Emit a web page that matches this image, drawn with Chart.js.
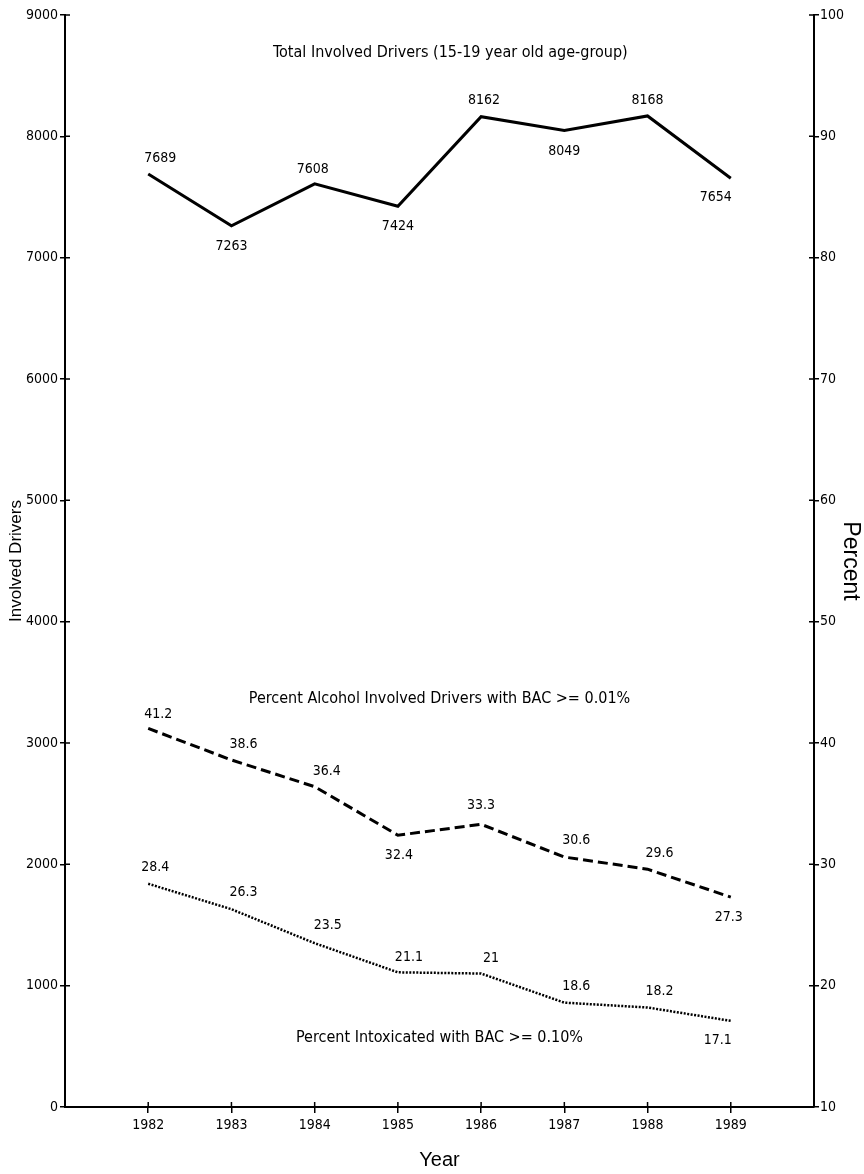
<!DOCTYPE html>
<html>
<head>
<meta charset="utf-8">
<script src="https://cdn.jsdelivr.net/npm/chart.js@4.4.1/dist/chart.umd.min.js"></script>
<style>
  html, body { margin: 0; padding: 0; background: #fff; }
  #wrap { width: 864px; height: 1174px; position: relative; }
</style>
</head>
<body>
<div id="wrap"><canvas id="chart"></canvas></div>
<script>
// values
const years = [1982, 1983, 1984, 1985, 1986, 1987, 1988, 1989];
const totalDrivers = [7689, 7263, 7608, 7424, 8162, 8049, 8168, 7654];
const pctBac001 = [41.2, 38.6, 36.4, 32.4, 33.3, 30.6, 29.6, 27.3];
const pctBac010 = [28.4, 26.3, 23.5, 21.1, 21, 18.6, 18.2, 17.1];
const leftTicks = [0, 1000, 2000, 3000, 4000, 5000, 6000, 7000, 8000, 9000];
const rightTicks = [10, 20, 30, 40, 50, 60, 70, 80, 90, 100];

// label nudges in px (style only)
const totalLabelOffsets = [[12, -16], [0, 21], [-2, -15], [0, 20], [3, -16], [0, 21], [0, -16], [-15, 19]];
const bac001LabelOffsets = [[10, -14], [12, -16], [12, -15], [1, 20], [0, -19], [12, -17], [12, -16], [-2, 20]];
const bac010LabelOffsets = [[7, -16], [12, -17], [13, -18], [11, -15], [10, -15], [12, -16], [12, -16], [-13, 20]];

const notes = [
  { text: 'Total Involved Drivers (15-19 year old age-group)', x: 1985.63, y: 8687, axis: 'y' },
  { text: 'Percent Alcohol Involved Drivers with BAC >= 0.01%', x: 1985.5, y: 43.6, axis: 'y1' },
  { text: 'Percent Intoxicated with BAC >= 0.10%', x: 1985.5, y: 15.7, axis: 'y1' }
];

const narrow = '"DejaVu Sans Condensed", "Liberation Sans Narrow", sans-serif';
const plain = '"Liberation Sans", Arial, sans-serif';

const toPoints = vals => vals.map((v, i) => ({ x: years[i], y: v }));

const pointLabels = {
  id: 'pointLabels',
  afterDatasetsDraw(chart) {
    const ctx = chart.ctx;
    ctx.save();
    ctx.font = '14px ' + narrow;
    ctx.fillStyle = '#000';
    ctx.textAlign = 'center';
    ctx.textBaseline = 'middle';
    chart.data.datasets.forEach((ds, di) => {
      const meta = chart.getDatasetMeta(di);
      meta.data.forEach((pt, i) => {
        const off = ds.labelOffsets[i];
        ctx.fillText(String(ds.data[i].y), pt.x + off[0], pt.y + off[1]);
      });
    });
    ctx.restore();
  }
};

const chartNotes = {
  id: 'chartNotes',
  afterDatasetsDraw(chart) {
    const ctx = chart.ctx;
    ctx.save();
    ctx.font = '16px ' + narrow;
    ctx.fillStyle = '#000';
    ctx.textAlign = 'center';
    ctx.textBaseline = 'middle';
    notes.forEach(n => {
      const px = chart.scales.x.getPixelForValue(n.x);
      const py = chart.scales[n.axis].getPixelForValue(n.y);
      ctx.fillText(n.text, px, py);
    });
    ctx.restore();
  }
};

// ticks in the scan cross the axis, so add the inner half
const innerTicks = {
  id: 'innerTicks',
  afterDraw(chart) {
    const ctx = chart.ctx;
    const { x, y, y1 } = chart.scales;
    ctx.save();
    ctx.strokeStyle = '#000';
    ctx.lineWidth = 1.5;
    ctx.beginPath();
    y.ticks.forEach((t, i) => {
      const py = y.getPixelForTick(i);
      ctx.moveTo(y.right, py); ctx.lineTo(y.right + 5, py);
    });
    y1.ticks.forEach((t, i) => {
      const py = y1.getPixelForTick(i);
      ctx.moveTo(y1.left - 5, py); ctx.lineTo(y1.left, py);
    });
    x.ticks.forEach((t, i) => {
      const px = x.getPixelForTick(i);
      ctx.moveTo(px, x.top - 5); ctx.lineTo(px, x.top);
    });
    ctx.stroke();
    ctx.restore();
  }
};

new Chart(document.getElementById('chart'), {
  type: 'line',
  data: {
    datasets: [
      {
        label: 'Total Involved Drivers',
        data: toPoints(totalDrivers),
        yAxisID: 'y',
        borderColor: '#000',
        borderWidth: 3,
        pointRadius: 0,
        labelOffsets: totalLabelOffsets
      },
      {
        label: 'Percent BAC >= 0.01%',
        data: toPoints(pctBac001),
        yAxisID: 'y1',
        borderColor: '#000',
        borderWidth: 3,
        borderDash: [10, 5],
        pointRadius: 0,
        labelOffsets: bac001LabelOffsets
      },
      {
        label: 'Percent BAC >= 0.10%',
        data: toPoints(pctBac010),
        yAxisID: 'y1',
        borderColor: '#000',
        borderWidth: 2.5,
        borderDash: [2, 1.5],
        pointRadius: 0,
        labelOffsets: bac010LabelOffsets
      }
    ]
  },
  options: {
    responsive: true,
    maintainAspectRatio: false,
    animation: false,
    layout: { padding: { top: 15, left: 0, right: 0, bottom: 0 } },
    plugins: {
      legend: { display: false },
      tooltip: { enabled: false }
    },
    scales: {
      x: {
        type: 'linear',
        min: 1981,
        max: 1990,
        afterBuildTicks: s => { s.ticks = years.map(v => ({ value: v })); },
        afterFit: s => { s.height = 67; },
        grid: { drawOnChartArea: false, tickLength: 6, color: '#000', lineWidth: 1.5 },
        border: { display: true, color: '#000', width: 2 },
        ticks: { color: '#000', font: { family: narrow, size: 14 }, padding: 4, maxRotation: 0, callback: v => String(v) },
        title: { display: true, text: 'Year', color: '#000', font: { family: plain, size: 20 }, padding: { top: 0, bottom: 2 } }
      },
      y: {
        position: 'left',
        min: 0,
        max: 9000,
        afterBuildTicks: s => { s.ticks = leftTicks.map(v => ({ value: v })); },
        afterFit: s => { s.width = 65; },
        grid: { drawOnChartArea: false, tickLength: 5, color: '#000', lineWidth: 1.5 },
        border: { display: true, color: '#000', width: 2 },
        ticks: { color: '#000', font: { family: narrow, size: 14 }, padding: 2, callback: v => String(v) },
        title: { display: true, text: 'Involved Drivers', color: '#000', font: { family: plain, size: 17 }, padding: { top: 6, bottom: 0 } }
      },
      y1: {
        position: 'right',
        min: 10,
        max: 100,
        afterBuildTicks: s => { s.ticks = rightTicks.map(v => ({ value: v })); },
        afterFit: s => { s.width = 50; },
        grid: { drawOnChartArea: false, tickLength: 5, color: '#000', lineWidth: 1.5 },
        border: { display: true, color: '#000', width: 2 },
        ticks: { color: '#000', font: { family: narrow, size: 14 }, padding: 1, callback: v => String(v) },
        title: { display: true, text: 'Percent', color: '#000', font: { family: plain, size: 23 }, padding: { top: 0, bottom: 0 } }
      }
    }
  },
  plugins: [pointLabels, chartNotes, innerTicks]
});
</script>
</body>
</html>
